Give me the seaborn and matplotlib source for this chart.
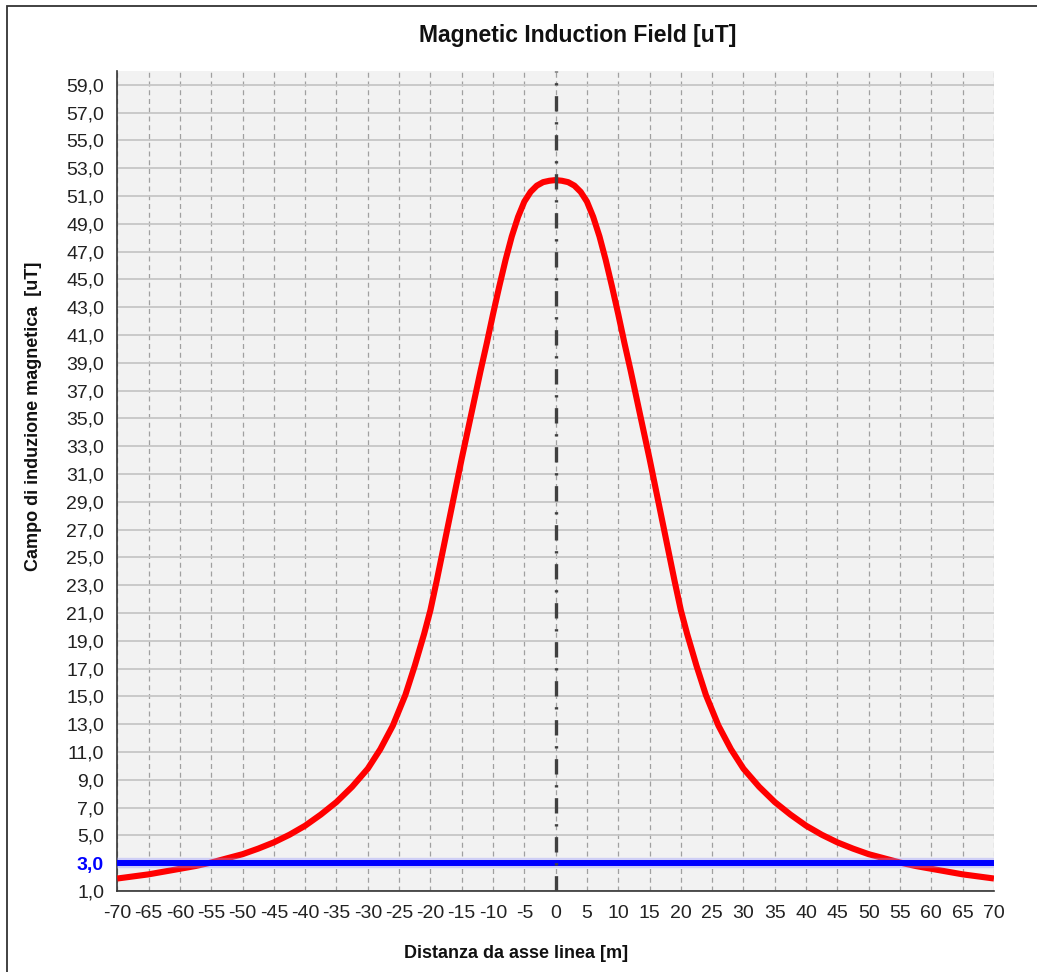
import pandas as pd
import seaborn as sns
import matplotlib.pyplot as plt
import matplotlib.patheffects as pe
from matplotlib.patches import Rectangle
from matplotlib.ticker import FuncFormatter

# Distance from line axis [m] and magnetic induction field [uT]
distance = [-70, -67.5, -65, -62.5, -60, -57.5, -55, -52.5, -50, -47.5, -45, -42.5,
            -40, -37.5, -35, -32.5, -30, -28, -26, -24, -22.5, -21, -20, -19, -18,
            -17, -16, -15, -14, -13, -12, -11, -10, -9, -8, -7, -6, -5, -4, -3, -2, -1,
            0,
            1, 2, 3, 4, 5, 6, 7, 8, 9, 10, 11, 12, 13, 14, 15, 16, 17, 18, 19, 20,
            21, 22.5, 24, 26, 28, 30, 32.5, 35, 37.5, 40, 42.5, 45, 47.5, 50, 52.5,
            55, 57.5, 60, 62.5, 65, 67.5, 70]
field = [1.9, 2.05, 2.2, 2.4, 2.6, 2.8, 3.05, 3.35, 3.65, 4.05, 4.5, 5.05,
         5.7, 6.5, 7.4, 8.5, 9.8, 11.2, 12.9, 15.1, 17.2, 19.5, 21.2, 23.3, 25.5,
         27.7, 29.9, 32.1, 34.2, 36.3, 38.4, 40.4, 42.5, 44.5, 46.4, 48.1, 49.5, 50.6,
         51.3, 51.75, 52.0, 52.1,
         52.15,
         52.1, 52.0, 51.75, 51.3, 50.6, 49.5, 48.1, 46.4, 44.5, 42.5, 40.4, 38.4,
         36.3, 34.2, 32.1, 29.9, 27.7, 25.5, 23.3, 21.2,
         19.5, 17.2, 15.1, 12.9, 11.2, 9.8, 8.5, 7.4, 6.5, 5.7, 5.05, 4.5, 4.05, 3.65,
         3.35, 3.05, 2.8, 2.6, 2.4, 2.2, 2.05, 1.9]
limit_value = 3.0  # quality objective [uT]
x_ticks = list(range(-70, 75, 5))
y_ticks = list(range(1, 61, 2))

df = pd.DataFrame({"distance": distance, "field": field})

sns.set_style("white")
plt.rcParams['font.family'] = ['Liberation Sans', 'DejaVu Sans']
plt.rcParams['axes.unicode_minus'] = False

fig = plt.figure(figsize=(10.37, 9.72), dpi=100)
ax = fig.add_axes([0.1131, 0.0833, 0.8454, 0.8437])
ax.set_facecolor('#f2f2f2')

# grid: solid horizontal, dashed vertical
ax.set_axisbelow(True)
ax.yaxis.grid(True, color='#c6c6c6', linewidth=1.3, linestyle='-')
ax.xaxis.grid(True, color='#a0a0a0', linewidth=0.9, linestyle=(0, (4, 3)))

sns.lineplot(data=df, x="distance", y="field", color='#ff0000', linewidth=4.4, ax=ax,
             zorder=3, solid_joinstyle='round', solid_capstyle='butt')

ax.axhline(limit_value, color='#0000ff', linewidth=4.3, zorder=4,
           path_effects=[pe.Stroke(linewidth=7.5, foreground='#9090ff', alpha=0.35), pe.Normal()])

ax.axvline(0, color='#404040', linewidth=2.4, zorder=5, linestyle=(0, (4.6, 3.2, 0.7, 3.2)))

ax.set_xlim(-70, 70)
ax.set_ylim(1, 60)
ax.set_xticks(x_ticks)
ax.set_yticks(y_ticks)
ax.yaxis.set_major_formatter(FuncFormatter(lambda v, p: f"{v:.1f}".replace('.', ',')))
ax.tick_params(axis='both', labelsize=14, colors='#222222', length=6, width=1, direction='out')
ax.tick_params(axis='x', pad=4)
for lbl in ax.get_yticklabels():
    if lbl.get_text() == '3,0':
        lbl.set_color('#0000ff')
        lbl.set_fontweight('bold')

for side in ['top', 'right']:
    ax.spines[side].set_visible(False)
for side in ['left', 'bottom']:
    ax.spines[side].set_color('#333333')
    ax.spines[side].set_linewidth(1.2)

ax.set_xlabel("")
ax.set_ylabel("")
fig.text(0.557, 0.963, "Magnetic Induction Field [uT]", ha='center', va='center',
         fontsize=16.5, fontweight='bold', color='#111111')
fig.text(0.4976, 0.0195, "Distanza da asse linea [m]", ha='center', va='center',
         fontsize=13, fontweight='bold', color='#111111')
fig.text(0.032, 0.572, "Campo di induzione magnetica  [uT]", ha='center', va='center',
         rotation=90, fontsize=13, fontweight='bold', color='#111111')

# chart border (cut off at right and bottom like the reference)
fig.add_artist(Rectangle((0.0072, -0.05), 1.2, 1.0438, transform=fig.transFigure,
                         fill=False, edgecolor='#333333', linewidth=1.3))

fig.savefig("out.png", dpi=100)
